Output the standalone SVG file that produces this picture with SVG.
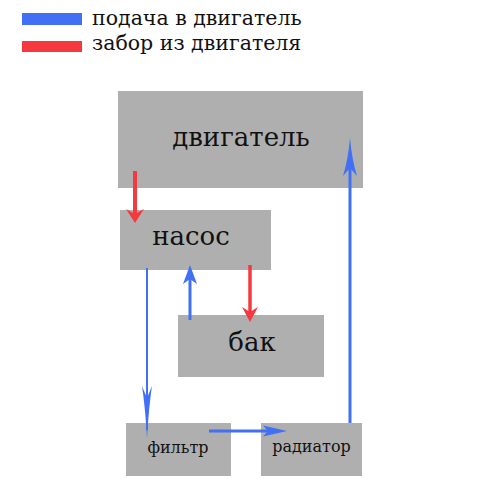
<svg xmlns="http://www.w3.org/2000/svg" width="500" height="500" viewBox="0 0 500 500">
<style>
.box{fill:#afafaf}
.t{font-family:"DejaVu Serif","Liberation Serif",serif;fill:#111;text-anchor:middle}
.lg{font-family:"DejaVu Serif","Liberation Serif",serif;fill:#111;font-size:20.5px}
.blue{stroke:#4170f4;fill:none}
.red{stroke:#f5393e;fill:none}
.hb{fill:#4170f4}
.hr{fill:#f5393e}
</style>
<rect width="500" height="500" fill="#fff"/>
<g id="legend">
<rect x="22" y="13" width="60" height="12" class="hb"/>
<rect x="22" y="41" width="60" height="11" class="hr"/>
<text x="92" y="25" class="lg">подача в двигатель</text>
<text x="92" y="50" class="lg">забор из двигателя</text>
</g>
<g id="engine"><rect x="118" y="91" width="245" height="97" class="box"/><text x="241" y="146" class="t" font-size="26">двигатель</text></g>
<g id="pump"><rect x="120" y="210" width="151" height="60" class="box"/><text x="191" y="245" class="t" font-size="26">насос</text></g>
<g id="tank"><rect x="178" y="315" width="146" height="62" class="box"/><text x="252" y="351" class="t" font-size="26">бак</text></g>
<g id="filter"><rect x="126" y="423" width="105" height="53" class="box"/><text x="178" y="453" class="t" font-size="16">фильтр</text></g>
<g id="radiator"><rect x="261" y="423" width="101" height="53" class="box"/><text x="311.5" y="452" class="t" font-size="16">радиатор</text></g>
<g id="connectors">
<line x1="135" y1="171" x2="135" y2="214" class="red" stroke-width="4"/>
<path d="M135,223 L126,209 L135,214 L144,209 Z" class="hr"/>
<line x1="250" y1="265" x2="250" y2="312" class="red" stroke-width="3.5"/>
<path d="M250,322 L242,307 L250,312 L258,307 Z" class="hr"/>
<line x1="190" y1="320" x2="190" y2="279" class="blue" stroke-width="3"/>
<path d="M190,265 L183,284 L190,279 L197,284 Z" class="hb"/>
<line x1="147" y1="268" x2="147" y2="430" class="blue" stroke-width="2"/>
<path d="M147,438 Q145,405 142,386 L147,398 L152,386 Q149,405 147,438 Z" class="hb"/>
<line x1="209" y1="431" x2="268" y2="431" class="blue" stroke-width="3"/>
<path d="M287,431 L263,425.5 L268,431 L263,436.5 Z" class="hb"/>
<line x1="350" y1="423" x2="350" y2="168" class="blue" stroke-width="3"/>
<path d="M350,138 Q352,160 357,176 L350,168 L343,176 Q348,160 350,138 Z" class="hb"/>
</g>
</svg>
